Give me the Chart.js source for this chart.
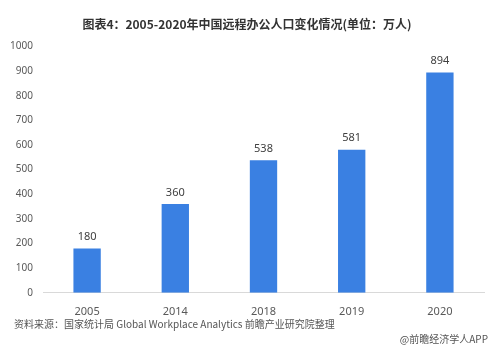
<!DOCTYPE html>
<html>
<head>
<meta charset="utf-8">
<script src="https://cdn.jsdelivr.net/npm/chart.js@4/dist/chart.umd.min.js"></script>
<style>
  html, body { margin: 0; padding: 0; background: #fff; }
  #wrap { position: relative; width: 500px; height: 364px; }
  .note { position: absolute; font-family: "Noto Sans CJK SC", "DejaVu Sans", sans-serif; color: #555; font-size: 10px; }
</style>
</head>
<body>
<div id="wrap">
  <canvas id="bar"></canvas>
  <div class="note" style="left:14px; top:316px;">资料来源：国家统计局 Global Workplace Analytics 前瞻产业研究院整理</div>
  <div class="note" style="right:12px; top:331px;">@前瞻经济学人APP</div>
</div>
<script>
const years = ['2005', '2014', '2018', '2019', '2020'];
const workers = [180, 360, 538, 581, 894];
const titleText = '图表4：2005-2020年中国远程办公人口变化情况(单位：万人)';

const valueLabels = {
  id: 'valueLabels',
  afterDatasetsDraw(chart) {
    const { ctx } = chart;
    const meta = chart.getDatasetMeta(0);
    ctx.save();
    ctx.font = '11px "Noto Sans", "DejaVu Sans", sans-serif';
    ctx.fillStyle = '#404040';
    ctx.textAlign = 'center';
    ctx.textBaseline = 'bottom';
    meta.data.forEach((bar, i) => {
      ctx.fillText(workers[i], bar.x, bar.y - 6);
    });
    ctx.restore();
  }
};

const ctx = document.getElementById('bar');

new Chart(ctx, {
  type: 'bar',
  data: {
    labels: years,
    datasets: [{
      data: workers,
      backgroundColor: '#3a80e2',
      barPercentage: 0.31,
      categoryPercentage: 1
    }]
  },
  options: {
    responsive: true,
    maintainAspectRatio: false,
    animation: false,
    layout: { padding: { left: 10, right: 16, top: 0, bottom: 42 } },
    plugins: {
      legend: { display: false },
      tooltip: { enabled: false },
      title: {
        display: true,
        text: titleText,
        color: '#333',
        font: { size: 12, weight: 'bold', family: '"Noto Sans CJK SC", sans-serif' },
        padding: { top: 17, bottom: 15 }
      }
    },
    scales: {
      x: {
        grid: { display: false },
        border: { color: '#d9d9d9' },
        ticks: { color: '#595959', font: { size: 11, family: '"Noto Sans", sans-serif' }, padding: 4 }
      },
      y: {
        min: 0,
        max: 1000,
        grid: { display: false },
        border: { display: false },
        afterFit: scale => { scale.width = 33; },
        ticks: {
          stepSize: 100,
          color: '#595959',
          font: { size: 10, family: '"Noto Sans", sans-serif' },
          padding: 2,
          callback: v => String(v)
        }
      }
    }
  },
  plugins: [valueLabels]
});
</script>
</body>
</html>
